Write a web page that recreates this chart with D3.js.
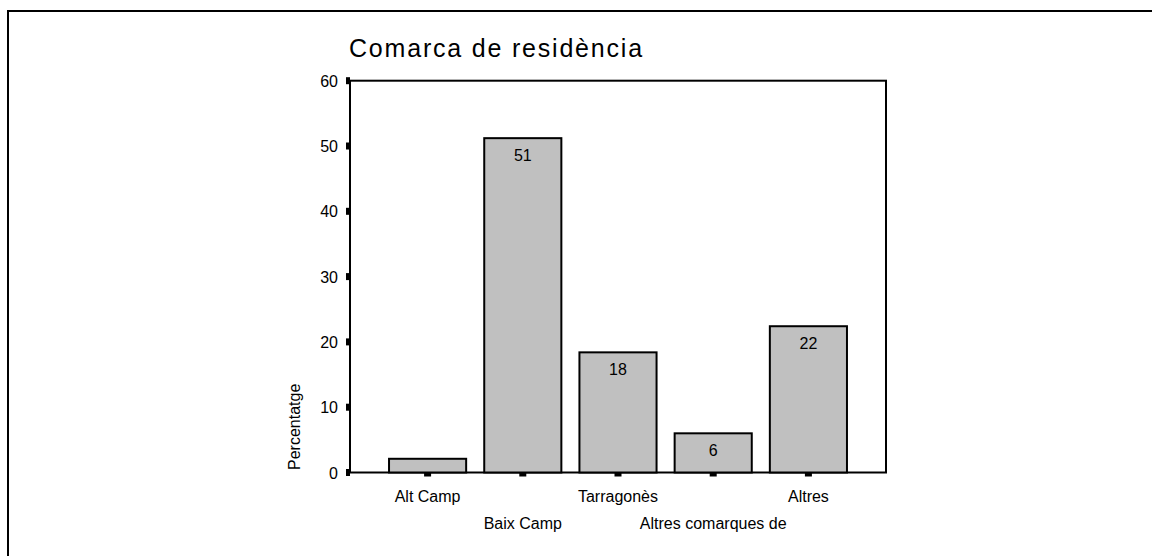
<!DOCTYPE html>
<html>
<head>
<meta charset="utf-8">
<script src="https://cdn.jsdelivr.net/npm/d3@7"></script>
<style>
  body { margin: 0; background: #fff; }
  text { font-family: Arial, "Liberation Sans", sans-serif; fill: #000; }
</style>
</head>
<body>
<div id="chart"></div>
<script>
// Data
var categories = ["Alt Camp", "Baix Camp", "Tarragonès", "Altres comarques de", "Altres"];
var percentages = [2.1, 51.2, 18.4, 6.0, 22.4];
var yTicks = [0, 10, 20, 30, 40, 50, 60];

var W = 1152, H = 556;
var plot = { left: 350, right: 886, top: 80.7, bottom: 472.5 };

var svg = d3.select("#chart").append("svg")
  .attr("width", W)
  .attr("height", H);

// outer frame (runs past the right and bottom edges)
svg.append("rect")
  .attr("x", 8).attr("y", 11)
  .attr("width", 1200).attr("height", 600)
  .attr("fill", "none")
  .attr("stroke", "#000")
  .attr("stroke-width", 2);

// scales
var x = d3.scaleBand()
  .domain(categories)
  .range([plot.left, plot.right])
  .paddingInner(0.19)
  .paddingOuter(0.41);

var y = d3.scaleLinear()
  .domain([0, 60])
  .range([plot.bottom, plot.top]);

// title
svg.append("text")
  .attr("x", 349)
  .attr("y", 57)
  .style("font-size", "25px")
  .style("letter-spacing", "1.8px")
  .text("Comarca de residència");

// plot box
svg.append("rect")
  .attr("x", plot.left).attr("y", plot.top)
  .attr("width", plot.right - plot.left)
  .attr("height", plot.bottom - plot.top)
  .attr("fill", "none")
  .attr("stroke", "#000")
  .attr("stroke-width", 2);

// bars
var bars = svg.append("g");
bars.selectAll("rect")
  .data(percentages)
  .enter().append("rect")
  .attr("x", function (d, i) { return x(categories[i]); })
  .attr("y", function (d) { return y(d); })
  .attr("width", x.bandwidth())
  .attr("height", function (d) { return y(0) - y(d); })
  .attr("fill", "#c0c0c0")
  .attr("stroke", "#000")
  .attr("stroke-width", 2);

// value labels inside the bars (too short a bar gets none)
bars.selectAll("text")
  .data(percentages)
  .enter().append("text")
  .attr("x", function (d, i) { return x(categories[i]) + x.bandwidth() / 2; })
  .attr("y", function (d) { return y(d) + 23; })
  .attr("text-anchor", "middle")
  .style("font-size", "16px")
  .text(function (d) { return d >= 5 ? d3.format(".0f")(d) : ""; });

// y axis ticks and labels
var yAxis = svg.append("g");
yAxis.selectAll("rect")
  .data(yTicks)
  .enter().append("rect")
  .attr("x", plot.left - 4)
  .attr("y", function (d) { return y(d) - 3.5; })
  .attr("width", 4)
  .attr("height", 7)
  .attr("fill", "#000");
yAxis.selectAll("text")
  .data(yTicks)
  .enter().append("text")
  .attr("x", plot.left - 12)
  .attr("y", function (d) { return y(d) + 6; })
  .attr("text-anchor", "end")
  .style("font-size", "16px")
  .text(function (d) { return d; });

// y axis title
svg.append("text")
  .attr("transform", "translate(300,470) rotate(-90)")
  .style("font-size", "16px")
  .text("Percentatge");

// x axis ticks and staggered labels
var xAxis = svg.append("g");
xAxis.selectAll("rect")
  .data(categories)
  .enter().append("rect")
  .attr("x", function (d) { return x(d) + x.bandwidth() / 2 - 3.5; })
  .attr("y", plot.bottom)
  .attr("width", 7)
  .attr("height", 4)
  .attr("fill", "#000");
xAxis.selectAll("text")
  .data(categories)
  .enter().append("text")
  .attr("x", function (d) { return x(d) + x.bandwidth() / 2; })
  .attr("y", function (d, i) { return i % 2 === 0 ? 502 : 529; })
  .attr("text-anchor", "middle")
  .style("font-size", "16px")
  .text(function (d) { return d; });
</script>
</body>
</html>
